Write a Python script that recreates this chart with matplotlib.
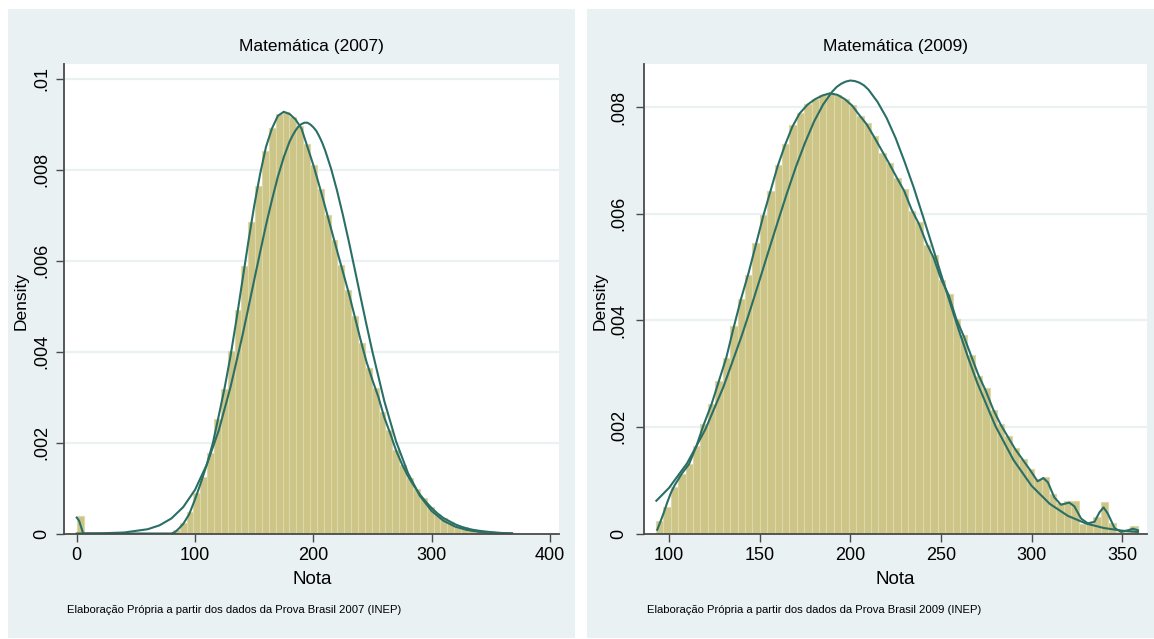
import numpy as np
import matplotlib
matplotlib.use("Agg")
import matplotlib.pyplot as plt
from matplotlib import font_manager
from matplotlib.patches import Rectangle

# ---------------- data ----------------
titles = ["Matemática (2007)", "Matemática (2009)"]
captions = ["Elaboração Própria a partir dos dados da Prova Brasil 2007 (INEP)",
            "Elaboração Própria a partir dos dados da Prova Brasil 2009 (INEP)"]

# histogram 2007 (density per bin)
bin_start_2007 = 0.0
bin_width_2007 = 5.8
hist_2007 = [0.00039, 0, 0, 0, 0, 0, 0, 0, 0, 0, 0, 0, 0, 0,
             0.00007, 0.00022, 0.00048, 0.00088, 0.00125, 0.00176, 0.00251, 0.00317,
             0.00401, 0.00492, 0.00589, 0.00685, 0.00763, 0.00840, 0.00891, 0.00922,
             0.00927, 0.00915, 0.00895, 0.00856, 0.00809, 0.00757, 0.00701, 0.00646,
             0.00591, 0.00536, 0.00477, 0.00418, 0.00363, 0.00319, 0.00268, 0.00227,
             0.00183, 0.00150, 0.00121, 0.00097, 0.00077, 0.00059, 0.00043, 0.00033,
             0.00026, 0.00016, 0.00015, 0.00009, 0.00007, 0.00005, 0.00004, 0.00002,
             0.00001]

# kernel density 2007
kde_x_2007 = [0, 2, 4, 5.5, 30, 60, 80, 83, 86, 90, 95, 100, 105, 110, 115, 120, 125,
              130, 135, 140, 145, 150, 155, 160, 165, 170, 175, 180, 185, 190, 195,
              200, 205, 210, 215, 220, 225, 230, 235, 240, 245, 250, 255, 260, 265,
              270, 275, 280, 285, 290, 295, 300, 305, 310, 315, 320, 325, 330, 335,
              340, 350, 360, 368]
kde_y_2007 = [0.00035, 0.00028, 0.00012, 0, 0, 0, 0, 0.00003, 0.00010, 0.00021,
              0.00042, 0.00075, 0.00112, 0.00152, 0.00198, 0.00258, 0.00320, 0.00390,
              0.00470, 0.00555, 0.00640, 0.00720, 0.00790, 0.00850, 0.00890, 0.00918,
              0.00927, 0.00922, 0.00910, 0.00890, 0.00850, 0.00810, 0.00765, 0.00718,
              0.00670, 0.00622, 0.00575, 0.00528, 0.00477, 0.00425, 0.00377, 0.00337,
              0.00300, 0.00255, 0.00220, 0.00182, 0.00152, 0.00126, 0.00105, 0.00086,
              0.00070, 0.00056, 0.00044, 0.00034, 0.00027, 0.00020, 0.00015, 0.00011,
              0.00008, 0.00006, 0.00003, 0.00001, 0]

# normal density 2007
norm_x_2007 = [0, 20, 40, 60, 70, 80, 90, 100, 110, 120, 130, 140, 145, 150, 155, 160,
               165, 170, 175, 180, 182.5, 185, 187.5, 190, 192.5, 195, 197.5, 200,
               202.5, 205, 207.5, 210, 215, 220, 225, 230, 235, 240, 245, 250, 260,
               270, 280, 290, 300, 310, 320, 330, 340, 355, 368]
norm_y_2007 = [0.0, 0.000004, 0.000022, 0.000094, 0.00018, 0.00033, 0.00058, 0.00096,
               0.00152, 0.00226, 0.00322, 0.00434, 0.00495, 0.00557, 0.00618, 0.00678,
               0.00733, 0.00784, 0.00827, 0.00862, 0.00875, 0.00886, 0.00895, 0.00900,
               0.00903, 0.00903, 0.00899, 0.00893, 0.00885, 0.00873, 0.00859, 0.00842,
               0.00802, 0.00754, 0.00700, 0.00642, 0.00581, 0.00519, 0.00458, 0.00399,
               0.00291, 0.00202, 0.00133, 0.00083, 0.000495, 0.00028, 0.00015, 0.000077,
               0.000037, 0.000011, 0.000004]

# histogram 2009
bin_start_2009 = 92.8
bin_width_2009 = 4.09
hist_2009 = [0.00023, 0.00050, 0.00088, 0.00112, 0.00130, 0.00165, 0.00206, 0.00243,
             0.00286, 0.00330, 0.00389, 0.00440, 0.00486, 0.00545, 0.00598, 0.00643,
             0.00691, 0.00730, 0.00766, 0.00789, 0.00806, 0.00815, 0.00823, 0.00826,
             0.00823, 0.00815, 0.00804, 0.00784, 0.00771, 0.00745, 0.00714, 0.00696,
             0.00668, 0.00647, 0.00606, 0.00585, 0.00542, 0.00522, 0.00475, 0.00450,
             0.00402, 0.00373, 0.00335, 0.00295, 0.00273, 0.00231, 0.00205, 0.00183,
             0.00160, 0.00140, 0.00121, 0.00102, 0.00106, 0.00075, 0.00057, 0.00061,
             0.00061, 0.00017, 0.00019, 0.00031, 0.00059, 0.00020, 0.00003, 0.00003,
             0.00015]

kde_x_2009 = [93.5, 95, 97, 99, 101, 103, 107, 111, 115, 119, 123.5, 127.5, 131.6,
              135.7, 139.7, 143.8, 148, 152, 156, 160, 164, 168, 172, 176.5, 180.6,
              184.7, 188.8, 193, 197, 201, 205, 209, 213, 217.5, 221.5, 225.6, 229.7,
              233.8, 238, 242, 246, 250, 254.3, 258.4, 262.5, 266.6, 270.6, 274.7,
              278.8, 283, 287, 291, 295, 299, 303.3, 306.5, 309, 312.5, 316.2, 320.8,
              323.6, 327.3, 331, 334.7, 337.5, 339.7, 342.1, 345.8, 349.4, 353.1,
              355.9, 358.7]
kde_y_2009 = [0.00007, 0.00020, 0.00038, 0.00058, 0.00076, 0.00090, 0.00112, 0.00130,
              0.00163, 0.00203, 0.00243, 0.00286, 0.00330, 0.00387, 0.00440, 0.00488,
              0.00543, 0.00596, 0.00643, 0.00690, 0.00729, 0.00763, 0.00788, 0.00805,
              0.00815, 0.00822, 0.00826, 0.00823, 0.00815, 0.00803, 0.00785, 0.00768,
              0.00745, 0.00718, 0.00694, 0.00668, 0.00643, 0.00608, 0.00580, 0.00545,
              0.00517, 0.00478, 0.00447, 0.00403, 0.00371, 0.00334, 0.00298, 0.00268,
              0.00233, 0.00204, 0.00181, 0.00158, 0.00139, 0.00120, 0.00098, 0.00104,
              0.00096, 0.00068, 0.00054, 0.00058, 0.00051, 0.00028, 0.00019, 0.00022,
              0.00040, 0.00049, 0.00037, 0.00010, 0.00003, 0.00006, 0.00009, 0.00006]

norm_x_2009 = [93, 100, 110, 120, 130, 140, 145, 150, 155, 160, 165, 170, 175, 180,
               185, 190, 192.5, 195, 197.5, 200, 202.5, 205, 207.5, 210, 215, 220, 225,
               230, 235, 240, 245, 250, 255, 260, 265, 270, 280, 290, 300, 310, 320,
               330, 340, 350, 358.7]
norm_y_2009 = [0.000614, 0.000856, 0.00132, 0.00195, 0.00275, 0.00370, 0.00422,
               0.00476, 0.00531, 0.00585, 0.00638, 0.00688, 0.00733, 0.00773, 0.00805,
               0.00829, 0.00838, 0.00844, 0.00848, 0.00850, 0.00849, 0.00846, 0.00841,
               0.00833, 0.00810, 0.00780, 0.00742, 0.00697, 0.00649, 0.00596, 0.00542,
               0.00487, 0.00433, 0.00380, 0.00330, 0.00283, 0.00202, 0.00138, 0.000895,
               0.000557, 0.000331, 0.000188, 0.000102, 0.000053, 0.000029]

xticks_2007 = [0, 100, 200, 300, 400]
xticks_2009 = [100, 150, 200, 250, 300, 350]
yticks_2007 = [0, 0.002, 0.004, 0.006, 0.008, 0.01]
yticks_2009 = [0, 0.002, 0.004, 0.006, 0.008]
ylabels_2007 = ["0", ".002", ".004", ".006", ".008", ".01"]
ylabels_2009 = ["0", ".002", ".004", ".006", ".008"]

# ---------------- style ----------------
names = {f.name for f in font_manager.fontManager.ttflist}
if "Liberation Sans Narrow" in names:
    fam = ["Liberation Sans Narrow", "DejaVu Sans"]
    k = 1.15
else:
    fam = ["Liberation Sans", "DejaVu Sans"]
    k = 1.0
plt.rcParams["font.family"] = fam

PANEL = "#eaf1f3"
GRID = "#e9f1f3"
BAR = "#cdc587"
BAR_EDGE = "#ddd8aa"
LINE = "#2a6f66"
AXIS = "#4a4a4a"

W, H = 1154, 639
fig = plt.figure(figsize=(W / 100, H / 100), dpi=100)
fig.patch.set_facecolor("white")

# panel backgrounds (pixel boxes), drawn on a background axes
bg = fig.add_axes([0, 0, 1, 1], zorder=-5)
bg.set_xlim(0, W)
bg.set_ylim(H, 0)
bg.axis("off")
for x0, x1 in [(8, 575), (587, 1154)]:
    bg.add_patch(Rectangle((x0, 9), x1 - x0, 629, facecolor=PANEL, edgecolor="none"))


def px_axes(l, r, t, b):
    return [l / W, 1 - b / H, (r - l) / W, (b - t) / H]


panels = [
    dict(box=px_axes(64.3, 559.4, 64, 533.5), xlim=(-10.5, 408), ylim=(0, 0.01032),
         start=bin_start_2007, width=bin_width_2007, hist=hist_2007,
         kx=kde_x_2007, ky=kde_y_2007, nx=norm_x_2007, ny=norm_y_2007,
         xt=xticks_2007, yt=yticks_2007, yl=ylabels_2007, ylab_x=21, cap_x=67, pad=4),
    dict(box=px_axes(644, 1146.7, 64, 533.5), xlim=(86.2, 363.5), ylim=(0, 0.00881),
         start=bin_start_2009, width=bin_width_2009, hist=hist_2009,
         kx=kde_x_2009, ky=kde_y_2009, nx=norm_x_2009, ny=norm_y_2009,
         xt=xticks_2009, yt=yticks_2009, yl=ylabels_2009, ylab_x=600, cap_x=647, pad=6),
]

for i, p in enumerate(panels):
    ax = fig.add_axes(p["box"])
    ax.set_facecolor("white")
    ax.set_axisbelow(True)

    edges = p["start"] + p["width"] * np.arange(len(p["hist"]))
    ax.bar(edges, p["hist"], width=p["width"], align="edge", color=BAR,
           edgecolor=BAR_EDGE, linewidth=0.8, zorder=2)
    ax.plot(p["kx"], p["ky"], color=LINE, lw=1.5, zorder=3, solid_joinstyle="round")
    ax.plot(p["nx"], p["ny"], color=LINE, lw=1.5, zorder=3, solid_joinstyle="round")

    ax.set_xlim(*p["xlim"])
    ax.set_ylim(*p["ylim"])
    ax.set_xticks(p["xt"])
    ax.set_xticklabels([str(t) for t in p["xt"]])
    ax.set_yticks(p["yt"])
    ax.set_yticklabels(p["yl"], rotation=90, va="center")

    for y in p["yt"][1:]:
        ax.axhline(y, color=GRID, lw=1.6, zorder=1)

    for s in ["top", "right"]:
        ax.spines[s].set_visible(False)
    for s in ["left", "bottom"]:
        ax.spines[s].set_color(AXIS)
        ax.spines[s].set_linewidth(1.3)
        ax.spines[s].set_zorder(4)
    ax.tick_params(axis="both", length=6, width=1.0, color=AXIS,
                   labelsize=13 * k, labelcolor="black")
    ax.tick_params(axis="x", pad=4)
    ax.tick_params(axis="y", pad=p["pad"])

    ax.text(0.5, 1 + 18 / 469.5, titles[i], transform=ax.transAxes, ha="center",
            va="center", fontsize=12.5 * k)
    ax.text(0.5, -46.5 / 469.5, "Nota", transform=ax.transAxes, ha="center",
            va="center", fontsize=13.5 * k)
    fig.text(p["ylab_x"] / W, 1 - 301 / H, "Density", rotation=90, ha="center",
             va="center", fontsize=12.5 * k)
    fig.text(p["cap_x"] / W, 1 - 610 / H, captions[i], ha="left", va="center",
             fontsize=8.1 * k)

fig.savefig("out.png", dpi=100, facecolor="white")
